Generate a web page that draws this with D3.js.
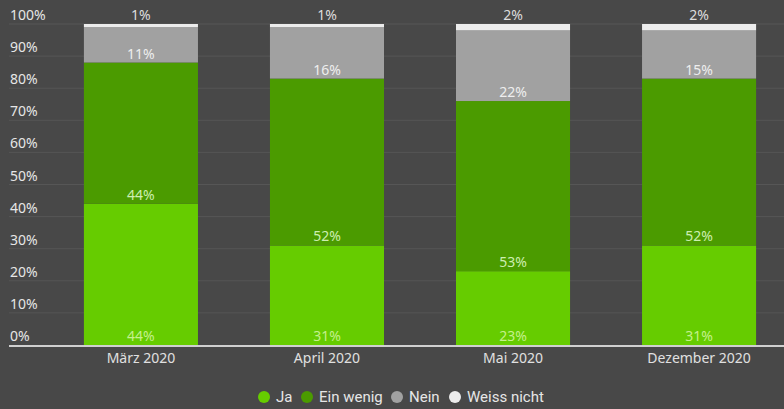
<!DOCTYPE html>
<html>
<head>
<meta charset="utf-8">
<script src="https://cdn.jsdelivr.net/npm/d3@7"></script>
<style>
  body { margin: 0; background: #484848; }
  svg { display: block; }
</style>
</head>
<body>
<svg width="784" height="409"></svg>
<script>
// data
var months = ['März 2020', 'April 2020', 'Mai 2020', 'Dezember 2020']
var series = ['Ja', 'Ein wenig', 'Nein', 'Weiss nicht']
var ja = [44, 31, 23, 31]
var einWenig = [44, 52, 53, 52]
var nein = [11, 16, 22, 15]
var weissNicht = [1, 1, 2, 2]
var yTicks = [0, 10, 20, 30, 40, 50, 60, 70, 80, 90, 100]

var colors = ['#66cc00', '#4b9b00', '#a1a1a1', '#ececec']
var labelColors = ['#c4f08c', '#cdeeb0', '#eeeeee', '#dddddd']

var rows = months.map(function (m, i) {
  return { month: m, 'Ja': ja[i], 'Ein wenig': einWenig[i], 'Nein': nein[i], 'Weiss nicht': weissNicht[i] }
})

var svg = d3.select('svg')

var x = d3.scaleBand()
  .domain(months)
  .range([56, 784])
  .paddingInner(0.387)
  .paddingOuter(0.15)

var y = d3.scaleLinear()
  .domain([0, 100])
  .range([345, 24])

// gridlines + tick labels
var grid = svg.append('g')
grid.selectAll('line')
  .data(yTicks.slice(1))
  .enter()
  .append('line')
  .attr('x1', 9)
  .attr('x2', 784)
  .attr('y1', d => y(d))
  .attr('y2', d => y(d))
  .attr('stroke', '#565656')
  .attr('stroke-width', 1)

grid.selectAll('text')
  .data(yTicks)
  .enter()
  .append('text')
  .attr('x', 10)
  .attr('y', d => y(d) - 4)
  .attr('fill', '#e6e6e6')
  .attr('font-family', 'Noto Sans, sans-serif')
  .attr('font-size', 14)
  .text(d => d + '%')

var stack = d3.stack().keys(series)(rows)

var layers = svg.append('g')
  .selectAll('g')
  .data(stack)
  .enter()
  .append('g')
  .attr('fill', (d, i) => colors[i])

layers.selectAll('rect')
  .data(d => d)
  .enter()
  .append('rect')
  .attr('x', d => x(d.data.month))
  .attr('width', x.bandwidth())
  .attr('y', d => y(d[1]))
  .attr('height', d => y(d[0]) - y(d[1]))

// value labels: at the base of each segment, the last one above the bar
stack.forEach(function (layer, si) {
  svg.append('g')
    .selectAll('text')
    .data(layer)
    .enter()
    .append('text')
    .attr('x', d => x(d.data.month) + x.bandwidth() / 2)
    .attr('y', d => (si === 3 ? y(100) : y(d[0])) - 4)
    .attr('text-anchor', 'middle')
    .attr('fill', labelColors[si])
    .attr('font-family', 'Noto Sans, sans-serif')
    .attr('font-size', 14)
    .text(d => Math.round(d[1] - d[0]) + '%')
})

// baseline
svg.append('line')
  .attr('x1', 9)
  .attr('x2', 784)
  .attr('y1', y(0) + 1)
  .attr('y2', y(0) + 1)
  .attr('stroke', '#d0d0d0')
  .attr('stroke-width', 2)

// x axis labels
var xAxis = svg.append('g')
  .attr('transform', 'translate(0,' + (y(0) + 2) + ')')
  .call(d3.axisBottom(x).tickSize(0).tickPadding(6))
xAxis.select('.domain').remove()
xAxis.selectAll('text')
  .attr('fill', '#e0e0e0')
  .attr('font-family', 'Noto Sans, sans-serif')
  .attr('font-size', 14)

// legend
var legendX = [264, 307, 397, 455]
var legend = svg.append('g')
  .selectAll('g')
  .data(series)
  .enter()
  .append('g')
  .attr('transform', (d, i) => 'translate(' + legendX[i] + ',397)')
legend.append('circle')
  .attr('r', 6)
  .attr('fill', (d, i) => colors[i])
legend.append('text')
  .attr('x', 12)
  .attr('y', 5)
  .attr('fill', '#e6e6e6')
  .attr('font-family', 'Roboto, sans-serif')
  .attr('font-size', 15)
  .text(d => d)
</script>
</body>
</html>
